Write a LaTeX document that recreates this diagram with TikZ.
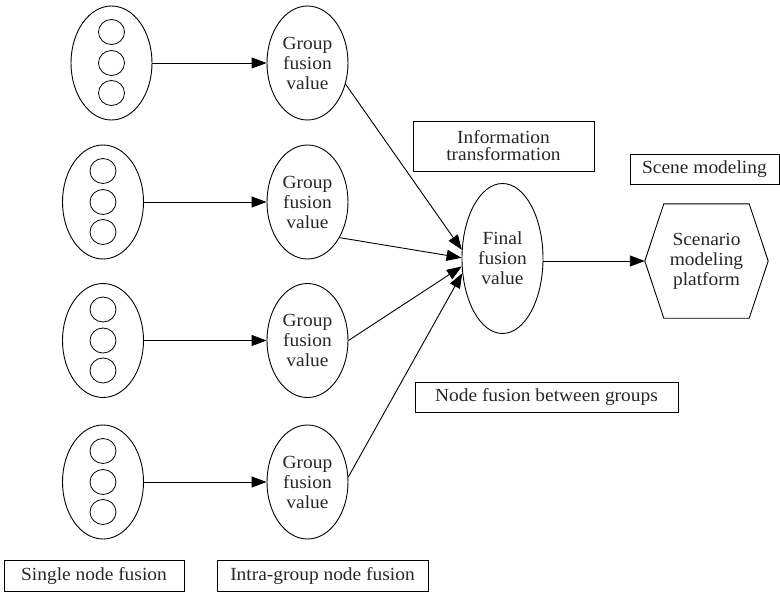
\documentclass[tikz,border=0pt]{standalone}
\usepackage{fontspec}
\setmainfont{Liberation Serif}[FakeStretch=1.05]
\usetikzlibrary{arrows.meta,shapes.geometric,calc}
\begin{document}
\begin{tikzpicture}[x=1pt,y=-1pt,
  every node/.style={text=black!85, font=\fontsize{18.5}{20}\selectfont},
  oval/.style={draw=black, ellipse, line width=0.9pt, minimum width=81pt, minimum height=114pt, inner sep=0pt, align=center},
  dot/.style={draw=black, ellipse, line width=0.8pt, minimum width=26pt, minimum height=25pt, inner sep=0pt},
  lbl/.style={draw=black, line width=0.9pt, inner sep=0pt, align=center},
  arr/.style={line width=0.9pt, -{Triangle[length=15pt,width=11pt]}}]
\useasboundingbox (0,0) rectangle (780,592);

% left groups and group fusion values
\foreach \i/\x/\y in {1/111.5/63, 2/103/202, 3/103/340.5, 4/103/482}{
  \node[oval] (L\i) at (\x,\y) {};
  \node[dot] (c\i a) at (\x,\y-31) {};
  \node[dot] (c\i b) at (\x,\y) {};
  \node[dot] (c\i c) at (\x,\y+30) {};
  \node[oval] (G\i) at (307.5,\y) {Group\\fusion\\value};
  \draw[arr] (L\i.east) -- (G\i.west);
}

% final fusion
\node[draw=black, ellipse, line width=0.9pt, minimum width=81pt, minimum height=150pt, inner sep=0pt, align=center] (final) at (502.5,258.5) {Final\\fusion\\value};

% hexagon
\node[minimum width=123pt, minimum height=114pt, inner sep=0pt, align=center] (hex) at (706.5,261) {Scenario\\modeling\\platform};
\draw[line width=0.9pt] (hex.west) -- ($(hex.north west)+(19,0)$) -- ($(hex.north east)+(-19,0)$) -- (hex.east) -- ($(hex.south east)+(-19,0)$) -- ($(hex.south west)+(19,0)$) -- cycle;

% connectors into final
\draw[arr] (G1.-29) -- (final.168);
\draw[arr] (G2.-48) -- (final.179);
\draw[arr] (G3.0) -- (final.191);
\draw[arr] (G4.7) -- (final.200);
\draw[arr] (final.east |- hex.west) -- (hex.west);

% labels
\node[lbl, minimum width=181pt, minimum height=50pt, font=\fontsize{18.5}{17}\selectfont] (info) at (503.5,146) {Information\\transformation};
\node[lbl, minimum width=149pt, minimum height=30pt] (scene) at (704.5,169) {Scene modeling};
\node[lbl, minimum width=263pt, minimum height=30pt] (nfg) at (546.5,397) {Node fusion between groups};
\node[lbl, minimum width=180pt, minimum height=31pt] (snf) at (94,575.5) {Single node fusion};
\node[lbl, minimum width=211pt, minimum height=31pt] (igf) at (322.5,575.5) {Intra-group node fusion};
\end{tikzpicture}
\end{document}
